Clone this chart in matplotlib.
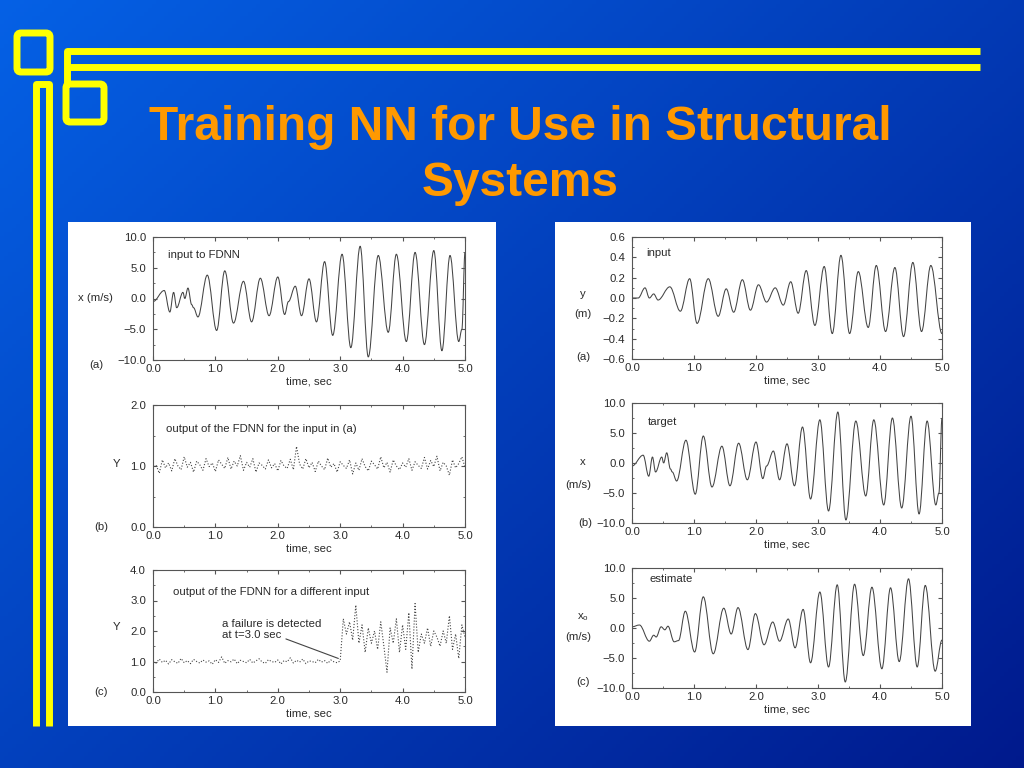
import numpy as np
import matplotlib.pyplot as plt
from matplotlib.patches import Rectangle, FancyBboxPatch, PathPatch
from matplotlib.path import Path
from matplotlib.ticker import MultipleLocator, FuncFormatter

# ---- data ----
# x (m/s): input to FDNN / target (same record), extrema (time, value)
x_t = [0.0, 0.18, 0.27, 0.33, 0.38, 0.48, 0.51, 0.56, 0.62, 0.65, 0.72, 0.87, 1.02, 1.15, 1.29,
       1.45, 1.58, 1.72, 1.86, 2.00, 2.11, 2.17, 2.28, 2.38, 2.50, 2.62, 2.75, 2.88, 3.03, 3.17,
       3.32, 3.45, 3.61, 3.77, 3.90, 4.06, 4.20, 4.35, 4.50, 4.63, 4.76, 4.90, 4.95, 5.00]
x_v = [-0.5, 1.3, -2.2, 1.0, -1.5, 1.0, 0.0, 1.7, -1.0, -1.5, -3.0, 3.8, -5.2, 4.5, -4.0,
       2.8, -3.8, 3.3, -2.8, 3.5, -2.6, -0.5, 2.0, -2.8, 3.2, -3.8, 6.0, -6.0, 7.2, -8.0,
       8.5, -9.5, 7.0, -5.5, 7.2, -7.0, 7.5, -7.5, 7.8, -8.5, 7.0, -7.0, -5.0, 7.5]

# y (m): input displacement, extrema
y_t = [0.0, 0.10, 0.21, 0.28, 0.35, 0.42, 0.61, 0.78, 0.93, 1.05, 1.23, 1.39, 1.52, 1.64, 1.78,
       1.91, 2.04, 2.17, 2.31, 2.44, 2.56, 2.68, 2.81, 2.95, 3.10, 3.23, 3.37, 3.51, 3.65, 3.81,
       3.94, 4.09, 4.24, 4.38, 4.53, 4.67, 4.82, 5.00]
y_v = [0.0, 0.0, 0.10, 0.0, 0.04, -0.02, 0.11, -0.13, 0.19, -0.25, 0.19, -0.18, 0.09, -0.14, 0.18,
       -0.12, 0.13, -0.04, 0.10, -0.07, 0.16, -0.15, 0.27, -0.27, 0.31, -0.35, 0.42, -0.35, 0.26, -0.29,
       0.32, -0.33, 0.30, -0.38, 0.35, -0.33, 0.32, -0.35]

# x_o (m/s): estimate, extrema
e_t = [0.0, 0.12, 0.28, 0.35, 0.39, 0.47, 0.53, 0.58, 0.68, 0.75, 0.86, 1.01, 1.15, 1.31, 1.48,
       1.60, 1.71, 1.87, 1.99, 2.13, 2.27, 2.38, 2.52, 2.63, 2.76, 2.88, 3.03, 3.17, 3.31, 3.44,
       3.59, 3.73, 3.87, 4.03, 4.17, 4.31, 4.46, 4.60, 4.73, 4.89, 5.00]
e_v = [0.2, 0.5, -2.2, -1.2, -1.5, 0.2, -0.3, 0.3, -2.3, -2.1, 2.8, -4.0, 5.2, -4.3, 3.3,
       -1.0, 3.4, -3.6, 2.4, -2.8, 1.0, -2.2, 1.5, -3.3, 3.1, -5.8, 6.0, -6.5, 7.2, -9.0,
       7.3, -4.6, 6.8, -6.8, 6.7, -5.6, 8.2, -6.5, 7.1, -7.2, -2.0]

# Y: FDNN output for the input in (a), sampled every 0.05 s
out_b = [0.95, 1.02, 0.88, 1.10, 0.97, 1.05, 0.92, 1.12, 1.00, 0.94, 1.15, 0.98, 1.06, 0.90, 1.08, 1.02, 0.93, 1.12, 0.99, 1.05,
         0.91, 1.10, 1.03, 0.96, 1.14, 0.95, 1.08, 1.00, 1.17, 0.93, 1.06, 0.98, 1.12, 0.90, 1.05, 1.01, 0.95, 1.10, 0.97, 1.04,
         0.92, 1.09, 1.00, 0.96, 1.11, 0.94, 1.32, 1.03, 0.95, 1.12, 0.97, 1.06, 0.91, 1.08, 1.00, 0.94, 1.13, 0.98, 1.04, 0.90,
         1.07, 1.01, 0.96, 1.10, 0.87, 1.05, 0.93, 1.12, 0.99, 0.92, 1.08, 1.02, 0.95, 1.15, 0.97, 1.06, 0.90, 1.10, 1.00, 0.94,
         1.05, 0.98, 1.12, 0.93, 1.07, 1.01, 0.96, 1.14, 0.95, 1.09, 0.99, 1.16, 0.92, 1.06, 1.00, 0.85, 1.10, 0.97, 1.04, 1.15, 0.98]

# Y: FDNN output for a different input (failure at t = 3.0 s)
out_c = [1.00, 0.95, 1.08, 0.97, 1.04, 0.92, 1.06, 0.99, 0.94, 1.10, 0.96, 1.03, 0.93, 1.07, 1.00, 0.95, 1.05, 0.98, 1.02, 0.91,
         1.06, 0.97, 1.15, 0.94, 1.03, 0.99, 1.08, 0.93, 1.04, 1.00, 0.96, 1.07, 0.95, 1.02, 1.09, 0.98, 0.94, 1.06, 1.00, 0.97,
         1.05, 0.92, 1.03, 0.99, 1.12, 0.95, 1.04, 0.98, 1.08, 0.93, 1.02, 1.00, 0.96, 1.07, 0.98, 1.03, 0.94, 1.05, 0.99, 0.96,
         1.02,
         2.40, 1.90, 2.30, 1.70, 2.85, 1.60, 2.20, 1.30, 2.10, 1.60, 2.00, 1.40, 2.30, 1.50, 0.65, 2.10, 1.60, 2.40, 1.30, 2.20,
         1.40, 2.60, 0.75, 2.90, 1.30, 1.90, 1.60, 2.10, 1.50, 2.00, 1.80, 1.50, 2.00, 1.60, 2.50, 1.40, 1.90, 1.10, 2.20, 1.80]

t_out = np.linspace(0.0, 5.0, len(out_b))

W, H = 1024, 768
fig = plt.figure(figsize=(W / 100, H / 100), dpi=100)
plt.rcParams['font.family'] = ['Liberation Sans', 'DejaVu Sans']

# background gradient
bg = fig.add_axes([0, 0, 1, 1], zorder=0)
gx, gy = np.meshgrid(np.linspace(0, 1, 256), np.linspace(0, 1, 192))
g = np.clip(0.55 * gx + 0.45 * gy, 0, 1)[..., None]
c0 = np.array([0.02, 0.38, 0.90])
c1 = np.array([0.00, 0.10, 0.55])
bg.imshow(c0 * (1 - g) + c1 * g, extent=[0, W, H, 0], aspect='auto')
bg.set_xlim(0, W)
bg.set_ylim(H, 0)
bg.axis('off')

yel = '#ffff00'
lwp = 5
# horizontal double rail, joined at its left end
bg.plot([980, 67, 67, 980], [51, 51, 67, 67], color=yel, lw=lwp,
        solid_capstyle='butt', solid_joinstyle='round')
bg.plot([67, 67], [67, 86], color=yel, lw=lwp, solid_capstyle='butt')
# vertical double rail, joined at its top end
bg.plot([36, 36, 49, 49], [726, 84, 84, 726], color=yel, lw=lwp,
        solid_capstyle='butt', solid_joinstyle='round')
# small squares
for (x0, y0, w, h) in [(17, 33, 33, 39), (66, 84, 38, 38)]:
    bg.add_patch(FancyBboxPatch((x0, y0), w, h, boxstyle='round,pad=0,rounding_size=4',
                                fill=False, edgecolor=yel, lw=lwp))

# title
fig.text(0.508, 1 - 127 / H, 'Training NN for Use in Structural', ha='center', va='center',
         color='#ff9900', fontsize=34.5, fontweight='bold', family='Liberation Sans')
fig.text(0.508, 1 - 184 / H, 'Systems', ha='center', va='center',
         color='#ff9900', fontsize=34.5, fontweight='bold', family='Liberation Sans')

# white panels
bg.add_patch(Rectangle((68, 222), 428, 504, facecolor='white', edgecolor='none'))
bg.add_patch(Rectangle((555, 222), 416, 504, facecolor='white', edgecolor='none'))

ink = '#2a2a2a'
wave = '#444444'
fs = 8.2
fmt = FuncFormatter(lambda v, p: ('%.1f' % v).replace('-', '\u2212'))


def px_axes(l, r, t, b):
    ax = fig.add_axes([l / W, 1 - b / H, (r - l) / W, (b - t) / H], zorder=2)
    ax.set_facecolor('none')
    for s in ax.spines.values():
        s.set_color('#555555')
        s.set_linewidth(0.8)
    ax.tick_params(which='both', direction='in', top=True, right=True, colors='#555555',
                   labelcolor=ink, labelsize=fs)
    ax.tick_params(axis='x', pad=3)
    ax.tick_params(axis='y', pad=5)
    ax.tick_params(which='major', length=3)
    ax.tick_params(which='minor', length=1.5)
    ax.set_xlim(0, 5)
    ax.xaxis.set_major_locator(MultipleLocator(1.0))
    ax.xaxis.set_minor_locator(MultipleLocator(0.5))
    ax.xaxis.set_major_formatter(fmt)
    ax.yaxis.set_major_formatter(fmt)
    ax.set_xlabel('time, sec', fontsize=fs, color=ink, labelpad=2)
    return ax


def smooth(ax, t, v):
    # smooth curve through the read extrema (flat tangent at each one)
    verts = [(t[0], v[0])]
    codes = [Path.MOVETO]
    for i in range(len(t) - 1):
        d = t[i + 1] - t[i]
        verts += [(t[i] + 0.36 * d, v[i]), (t[i + 1] - 0.36 * d, v[i + 1]), (t[i + 1], v[i + 1])]
        codes += [Path.CURVE4] * 3
    ax.add_patch(PathPatch(Path(verts, codes), fill=False, edgecolor=wave, lw=0.75))


def ftext(x, y, s, **kw):
    fig.text(x / W, 1 - y / H, s, ha='center', va='center', fontsize=fs, color=ink, **kw)


# left column
a1 = px_axes(153, 465, 237, 360)
smooth(a1, x_t, x_v)
a1.set_ylim(-10, 10)
a1.yaxis.set_major_locator(MultipleLocator(5.0))
a1.yaxis.set_minor_locator(MultipleLocator(2.5))
a1.text(0.24, 7.0, 'input to FDNN', fontsize=fs, color=ink, va='center')
ftext(95, 298, 'x (m/s)')
ftext(96, 365, '(a)')

a2 = px_axes(153, 465, 405, 527)
a2.plot(t_out, out_b, color=wave, lw=0.8, ls=':')
a2.set_ylim(0, 2)
a2.yaxis.set_major_locator(MultipleLocator(1.0))
a2.yaxis.set_minor_locator(MultipleLocator(0.5))
a2.text(0.21, 1.6, 'output of the FDNN for the input in (a)', fontsize=fs, color=ink, va='center')
ftext(117, 464, 'Y')
ftext(101, 527, '(b)')

a3 = px_axes(153, 465, 570, 692)
a3.plot(t_out, out_c, color=wave, lw=0.8, ls=':')
a3.set_ylim(0, 4)
a3.yaxis.set_major_locator(MultipleLocator(1.0))
a3.yaxis.set_minor_locator(MultipleLocator(0.5))
a3.text(0.32, 3.27, 'output of the FDNN for a different input', fontsize=fs, color=ink, va='center')
a3.text(1.11, 2.05, 'a failure is detected\nat t=3.0 sec', fontsize=fs, color=ink, va='center',
        linespacing=1.1)
a3.annotate('', xy=(2.97, 1.1), xytext=(2.13, 1.74),
            arrowprops=dict(arrowstyle='-', color=wave, lw=0.8, shrinkA=0, shrinkB=0))
ftext(117, 627, 'Y')
ftext(101, 692, '(c)')

# right column
b1 = px_axes(632, 942, 237, 359)
smooth(b1, y_t, y_v)
b1.set_ylim(-0.6, 0.6)
b1.yaxis.set_major_locator(MultipleLocator(0.2))
b1.yaxis.set_minor_locator(MultipleLocator(0.1))
b1.text(0.23, 0.44, 'input', fontsize=fs, color=ink, va='center')
ftext(583, 294, 'y')
ftext(583, 314, '(m)')
ftext(583, 357, '(a)')

b2 = px_axes(632, 942, 403, 523)
smooth(b2, x_t, x_v)
b2.set_ylim(-10, 10)
b2.yaxis.set_major_locator(MultipleLocator(5.0))
b2.yaxis.set_minor_locator(MultipleLocator(2.5))
b2.text(0.25, 6.8, 'target', fontsize=fs, color=ink, va='center')
ftext(583, 462, 'x')
ftext(578, 485, '(m/s)')
ftext(585, 523, '(b)')

b3 = px_axes(632, 942, 568, 688)
smooth(b3, e_t, e_v)
b3.set_ylim(-10, 10)
b3.yaxis.set_major_locator(MultipleLocator(5.0))
b3.yaxis.set_minor_locator(MultipleLocator(2.5))
b3.text(0.28, 8.2, 'estimate', fontsize=fs, color=ink, va='center')
ftext(583, 617, r'x$_\mathregular{o}$')
ftext(578, 637, '(m/s)')
ftext(583, 682, '(c)')

fig.savefig('out.png', dpi=100)
